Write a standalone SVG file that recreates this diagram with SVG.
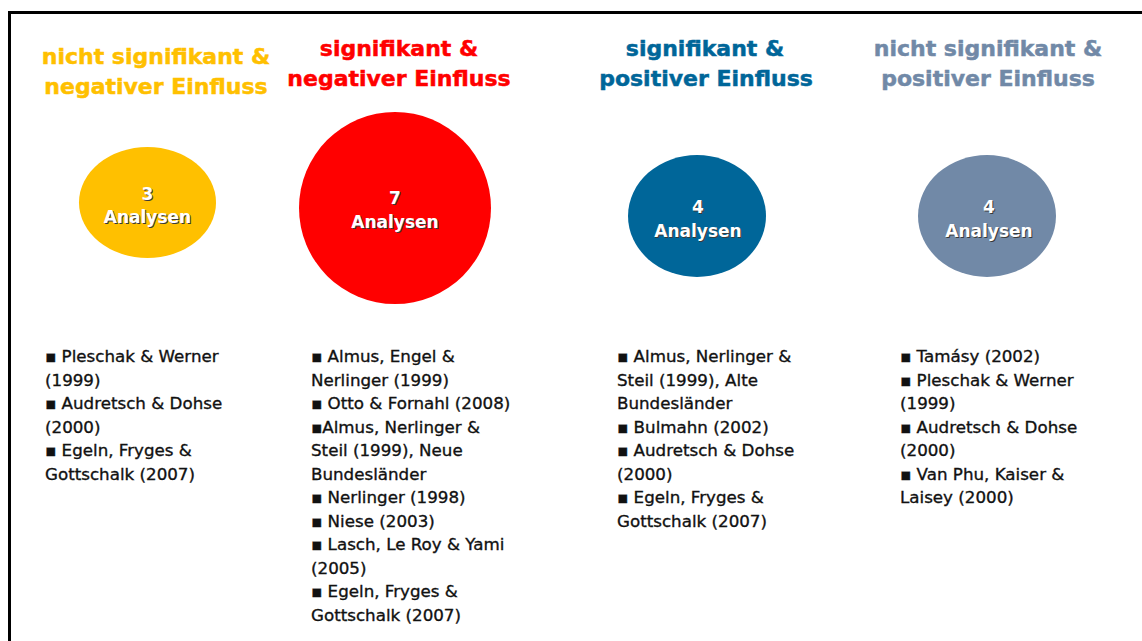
<svg xmlns="http://www.w3.org/2000/svg" width="1142" height="641" viewBox="0 0 1142 641">
  <style>
    .head { font-family: "DejaVu Sans", Verdana, sans-serif; font-weight: bold; font-size: 22px; text-anchor: middle; stroke-width: 0.5; }
    .count { font-family: "DejaVu Sans", Verdana, sans-serif; font-weight: bold; font-size: 17px; text-anchor: middle; }
    .count-fg { fill: #ffffff; }
    .count-sh { fill: #3a3a3a; }
    .refs { font-family: "DejaVu Sans", Tahoma, sans-serif; font-size: 16.7px; fill: #111111; stroke: #111111; stroke-width: 0.35; }
  </style>

  <rect x="0" y="0" width="1142" height="641" fill="#ffffff"/>
  <!-- frame: top and left edges -->
  <path d="M9.5 641 V12.5 H1142" fill="none" stroke="#000000" stroke-width="3"/>

  <!-- column 1: nicht signifikant & negativer Einfluss -->
  <g id="col-ns-neg">
    <text class="head" fill="#FFC000" stroke="#FFC000" x="156" y="64">nicht signifikant &amp;</text>
    <text class="head" fill="#FFC000" stroke="#FFC000" x="156" y="94">negativer Einfluss</text>
    <ellipse cx="147.5" cy="202.5" rx="68.5" ry="55.5" fill="#FFC000"/>
    <text class="count count-sh" x="148.5" y="201">3</text>
    <text class="count count-sh" x="148.5" y="224">Analysen</text>
    <text class="count count-fg" x="147.5" y="200">3</text>
    <text class="count count-fg" x="147.5" y="223">Analysen</text>
    <text class="refs">
      <tspan x="45" y="362">▪ Pleschak &amp; Werner</tspan>
      <tspan x="45" y="385.5">(1999)</tspan>
      <tspan x="45" y="409">▪ Audretsch &amp; Dohse</tspan>
      <tspan x="45" y="432.5">(2000)</tspan>
      <tspan x="45" y="456">▪ Egeln, Fryges &amp;</tspan>
      <tspan x="45" y="479.5">Gottschalk (2007)</tspan>
    </text>
  </g>

  <!-- column 2: signifikant & negativer Einfluss -->
  <g id="col-s-neg">
    <text class="head" fill="#FF0000" stroke="#FF0000" x="399" y="56">signifikant &amp;</text>
    <text class="head" fill="#FF0000" stroke="#FF0000" x="399" y="86">negativer Einfluss</text>
    <ellipse cx="395" cy="208" rx="96" ry="96" fill="#FF0000"/>
    <text class="count count-sh" x="396" y="205">7</text>
    <text class="count count-sh" x="396" y="229">Analysen</text>
    <text class="count count-fg" x="395" y="204">7</text>
    <text class="count count-fg" x="395" y="228">Analysen</text>
    <text class="refs">
      <tspan x="311" y="362">▪ Almus, Engel &amp;</tspan>
      <tspan x="311" y="386">Nerlinger (1999)</tspan>
      <tspan x="311" y="409">▪ Otto &amp; Fornahl (2008)</tspan>
      <tspan x="311" y="432.5">▪Almus, Nerlinger &amp;</tspan>
      <tspan x="311" y="456">Steil (1999), Neue</tspan>
      <tspan x="311" y="479.5">Bundesländer</tspan>
      <tspan x="311" y="503">▪ Nerlinger (1998)</tspan>
      <tspan x="311" y="526.5">▪ Niese (2003)</tspan>
      <tspan x="311" y="550">▪ Lasch, Le Roy &amp; Yami</tspan>
      <tspan x="311" y="573.5">(2005)</tspan>
      <tspan x="311" y="597">▪ Egeln, Fryges &amp;</tspan>
      <tspan x="311" y="620.5">Gottschalk (2007)</tspan>
    </text>
  </g>

  <!-- column 3: signifikant & positiver Einfluss -->
  <g id="col-s-pos">
    <text class="head" fill="#006699" stroke="#006699" x="705" y="56">signifikant &amp;</text>
    <text class="head" fill="#006699" stroke="#006699" x="706" y="86">positiver Einfluss</text>
    <ellipse cx="697" cy="216" rx="69" ry="61" fill="#006699"/>
    <text class="count count-sh" x="699" y="214">4</text>
    <text class="count count-sh" x="699" y="238">Analysen</text>
    <text class="count count-fg" x="698" y="213">4</text>
    <text class="count count-fg" x="698" y="237">Analysen</text>
    <text class="refs">
      <tspan x="617" y="362">▪ Almus, Nerlinger &amp;</tspan>
      <tspan x="617" y="385.5">Steil (1999), Alte</tspan>
      <tspan x="617" y="409">Bundesländer</tspan>
      <tspan x="617" y="432.5">▪ Bulmahn (2002)</tspan>
      <tspan x="617" y="456">▪ Audretsch &amp; Dohse</tspan>
      <tspan x="617" y="479.5">(2000)</tspan>
      <tspan x="617" y="503">▪ Egeln, Fryges &amp;</tspan>
      <tspan x="617" y="526.5">Gottschalk (2007)</tspan>
    </text>
  </g>

  <!-- column 4: nicht signifikant & positiver Einfluss -->
  <g id="col-ns-pos">
    <text class="head" fill="#7189A7" stroke="#7189A7" x="988" y="56">nicht signifikant &amp;</text>
    <text class="head" fill="#7189A7" stroke="#7189A7" x="988" y="86">positiver Einfluss</text>
    <ellipse cx="987" cy="216" rx="69" ry="61" fill="#7189A7"/>
    <text class="count count-sh" x="990" y="214">4</text>
    <text class="count count-sh" x="990" y="238">Analysen</text>
    <text class="count count-fg" x="989" y="213">4</text>
    <text class="count count-fg" x="989" y="237">Analysen</text>
    <text class="refs">
      <tspan x="900" y="362">▪ Tamásy (2002)</tspan>
      <tspan x="900" y="385.5">▪ Pleschak &amp; Werner</tspan>
      <tspan x="900" y="409">(1999)</tspan>
      <tspan x="900" y="432.5">▪ Audretsch &amp; Dohse</tspan>
      <tspan x="900" y="456">(2000)</tspan>
      <tspan x="900" y="479.5">▪ Van Phu, Kaiser &amp;</tspan>
      <tspan x="900" y="503">Laisey (2000)</tspan>
    </text>
  </g>
</svg>
